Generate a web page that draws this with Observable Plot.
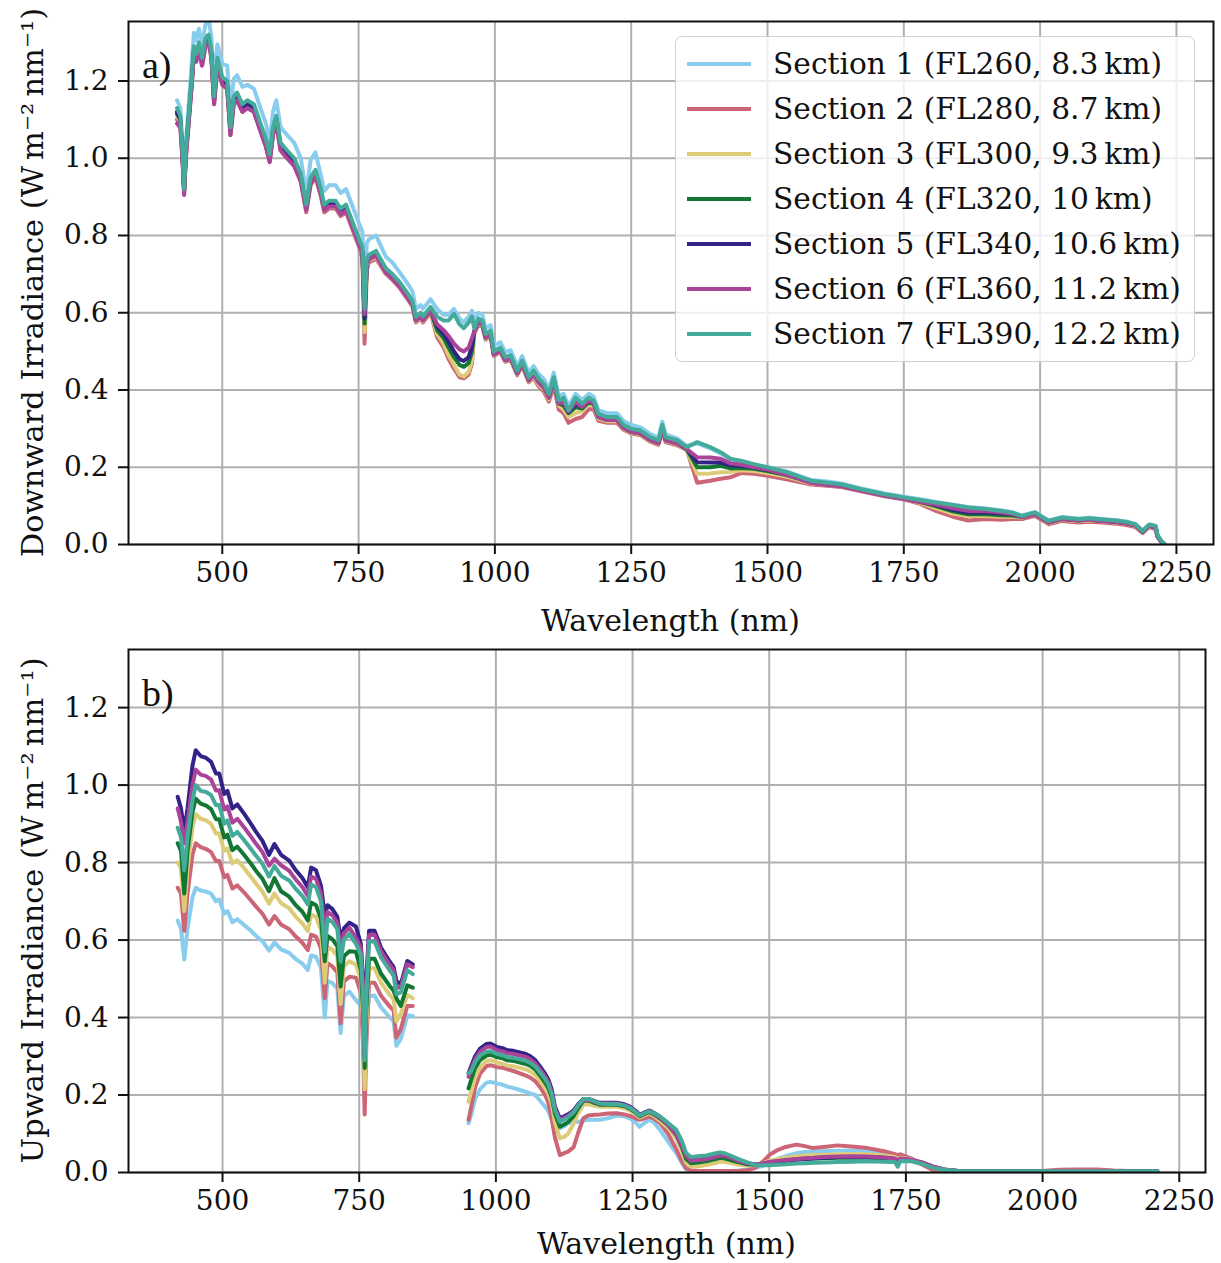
<!DOCTYPE html>
<html><head><meta charset="utf-8">
<script src="https://cdn.jsdelivr.net/npm/d3@7"></script>
<script src="https://cdn.jsdelivr.net/npm/@observablehq/plot@0.6"></script>
<style>
html,body{margin:0;padding:0;background:#fff;}
#wrap{position:relative;width:1221px;height:1263px;overflow:hidden;font-family:"DejaVu Serif",serif;background:#fff;}
.panel{position:absolute;left:0;}
.legend{position:absolute;left:675px;top:36px;width:520px;height:326px;box-sizing:border-box;border:1.5px solid #d0d0d0;border-radius:7px;background:rgba(255,255,255,0.8);}
.legend .row{position:absolute;left:0;height:40px;width:100%;}
.legend .swatch{position:absolute;left:11px;top:18px;width:64px;height:4px;}
.legend .lab{position:absolute;left:97px;top:0;line-height:40px;font-size:29.7px;color:#111;white-space:nowrap;}
</style></head><body><div id="wrap"></div>
<script>
// ---------- data ----------
const sectionNames = [
  "Section 1 (FL260, 8.3\u2009km)",
  "Section 2 (FL280, 8.7\u2009km)",
  "Section 3 (FL300, 9.3\u2009km)",
  "Section 4 (FL320, 10\u2009km)",
  "Section 5 (FL340, 10.6\u2009km)",
  "Section 6 (FL360, 11.2\u2009km)",
  "Section 7 (FL390, 12.2\u2009km)"
];
const sectionColors = ["#88CCEE", "#CC6677", "#DDCC77", "#117733", "#332288", "#AA4499", "#44AA99"];
const xTicks = [500, 750, 1000, 1250, 1500, 1750, 2000, 2250];
const yTicks = [0, 0.2, 0.4, 0.6, 0.8, 1.0, 1.2];

// Panel a: downward irradiance
const wavelengthsA = [
  417, 423, 427, 430, 433, 437, 444, 448, 452, 457,
  463, 469, 475, 480, 485, 491, 500, 509, 515, 521,
  527, 537, 546, 558, 570, 580, 587, 593, 599, 607,
  619, 632, 644, 654, 662, 671, 681, 687, 696, 708,
  717, 727, 739, 751, 757, 761, 765, 769, 782, 800,
  812, 825, 840, 849, 855, 864, 868, 882, 894, 906,
  915, 925, 935, 943, 952, 958, 962, 970, 977, 983,
  992, 998, 1010, 1019, 1029, 1041, 1050, 1062, 1071, 1080,
  1090, 1099, 1108, 1117, 1126, 1135, 1148, 1160, 1172, 1181,
  1190, 1206, 1224, 1236, 1249, 1267, 1285, 1300, 1307, 1313,
  1334, 1352, 1371, 1395, 1414, 1432, 1451, 1475, 1500, 1537,
  1580, 1610, 1635, 1672, 1715, 1750, 1780, 1807, 1840, 1868,
  1900, 1930, 1950, 1967, 1991, 2005, 2016, 2040, 2070, 2090,
  2114, 2140, 2160, 2175, 2188, 2200, 2207, 2212, 2215, 2222,
  2228
];
const downS1 = [
  1.15, 1.13, 1.04, 0.93, 1.04, 1.11, 1.245, 1.325, 1.305, 1.335,
  1.295, 1.345, 1.36, 1.315, 1.19, 1.295, 1.245, 1.24, 1.12, 1.205,
  1.215, 1.185, 1.19, 1.18, 1.13, 1.09, 1.04, 1.12, 1.15, 1.08,
  1.06, 1.04, 1.0, 0.91, 0.995, 1.015, 0.955, 0.915, 0.93, 0.93,
  0.91, 0.92, 0.875, 0.83, 0.81, 0.64, 0.78, 0.79, 0.80, 0.745,
  0.73, 0.705, 0.675, 0.655, 0.61, 0.62, 0.61, 0.635, 0.61, 0.595,
  0.595, 0.61, 0.585, 0.575, 0.59, 0.605, 0.575, 0.6, 0.595, 0.56,
  0.568, 0.514, 0.524, 0.498, 0.503, 0.462, 0.488, 0.445, 0.462, 0.442,
  0.428, 0.402, 0.445, 0.385, 0.39, 0.358, 0.39, 0.374, 0.39, 0.383,
  0.348, 0.34, 0.34, 0.32, 0.31, 0.303, 0.286, 0.277, 0.318, 0.285,
  0.275, 0.255, 0.262, 0.249, 0.236, 0.22, 0.215, 0.206, 0.2, 0.188,
  0.167, 0.163, 0.158, 0.145, 0.132, 0.124, 0.117, 0.111, 0.103, 0.097,
  0.093, 0.088, 0.083, 0.075, 0.084, 0.071, 0.062, 0.071, 0.067, 0.069,
  0.066, 0.063, 0.059, 0.053, 0.036, 0.05, 0.045, 0.042, 0.024, 0.008,
  0.0
];
const downS2 = [
  1.10, 1.09, 1.0, 0.91, 1.0, 1.07, 1.19, 1.27, 1.25, 1.28,
  1.24, 1.29, 1.30, 1.26, 1.14, 1.24, 1.19, 1.18, 1.06, 1.14,
  1.15, 1.12, 1.13, 1.12, 1.07, 1.03, 0.99, 1.06, 1.09, 1.02,
  1.0, 0.98, 0.94, 0.86, 0.93, 0.95, 0.90, 0.86, 0.87, 0.87,
  0.85, 0.86, 0.815, 0.77, 0.74, 0.52, 0.71, 0.73, 0.74, 0.70,
  0.685, 0.665, 0.635, 0.615, 0.575, 0.585, 0.575, 0.60, 0.537, 0.51,
  0.48, 0.455, 0.433, 0.43, 0.44, 0.47, 0.545, 0.57, 0.565, 0.53,
  0.54, 0.488, 0.498, 0.473, 0.478, 0.438, 0.463, 0.42, 0.432, 0.41,
  0.395, 0.37, 0.41, 0.35, 0.34, 0.315, 0.325, 0.33, 0.35, 0.35,
  0.32, 0.315, 0.315, 0.297, 0.288, 0.283, 0.266, 0.258, 0.295, 0.265,
  0.257, 0.245, 0.16, 0.165, 0.17, 0.174, 0.185, 0.183, 0.178, 0.168,
  0.155, 0.152, 0.149, 0.138, 0.125, 0.117, 0.105, 0.088, 0.072, 0.062,
  0.066, 0.064, 0.066, 0.066, 0.074, 0.062, 0.052, 0.061, 0.057, 0.059,
  0.057, 0.054, 0.05, 0.045, 0.03, 0.045, 0.042, 0.04, 0.02, 0.006,
  0.0
];
const downS3 = [
  1.11, 1.095, 1.005, 0.915, 1.005, 1.075, 1.195, 1.275, 1.255, 1.285,
  1.245, 1.295, 1.305, 1.265, 1.145, 1.245, 1.195, 1.185, 1.065, 1.145,
  1.155, 1.125, 1.135, 1.125, 1.075, 1.035, 0.995, 1.065, 1.095, 1.025,
  1.005, 0.985, 0.945, 0.865, 0.935, 0.955, 0.905, 0.865, 0.875, 0.875,
  0.855, 0.865, 0.82, 0.775, 0.75, 0.55, 0.72, 0.735, 0.745, 0.70,
  0.688, 0.668, 0.638, 0.618, 0.578, 0.588, 0.578, 0.603, 0.545, 0.52,
  0.49, 0.465, 0.44, 0.435, 0.447, 0.478, 0.548, 0.572, 0.567, 0.532,
  0.542, 0.49, 0.5, 0.475, 0.48, 0.44, 0.465, 0.422, 0.436, 0.415,
  0.402, 0.376, 0.418, 0.36, 0.35, 0.33, 0.34, 0.345, 0.362, 0.36,
  0.326, 0.319, 0.319, 0.3, 0.29, 0.285, 0.268, 0.26, 0.298, 0.268,
  0.26, 0.243, 0.183, 0.184, 0.187, 0.188, 0.192, 0.19, 0.185, 0.175,
  0.158, 0.154, 0.151, 0.139, 0.126, 0.118, 0.108, 0.095, 0.08, 0.074,
  0.074, 0.072, 0.072, 0.07, 0.078, 0.065, 0.055, 0.064, 0.06, 0.062,
  0.06, 0.057, 0.053, 0.048, 0.032, 0.048, 0.045, 0.043, 0.022, 0.007,
  0.0
];
const downS4 = [
  1.115, 1.1, 1.01, 0.915, 1.01, 1.08, 1.2, 1.28, 1.26, 1.29,
  1.25, 1.30, 1.31, 1.27, 1.15, 1.25, 1.20, 1.19, 1.07, 1.15,
  1.16, 1.13, 1.14, 1.13, 1.08, 1.04, 1.0, 1.07, 1.10, 1.03,
  1.01, 0.99, 0.95, 0.87, 0.94, 0.96, 0.91, 0.87, 0.88, 0.88,
  0.86, 0.87, 0.825, 0.78, 0.755, 0.572, 0.725, 0.74, 0.75, 0.705,
  0.69, 0.671, 0.641, 0.621, 0.581, 0.591, 0.581, 0.606, 0.555, 0.535,
  0.51, 0.485, 0.465, 0.46, 0.47, 0.5, 0.55, 0.575, 0.57, 0.535,
  0.545, 0.492, 0.502, 0.477, 0.482, 0.443, 0.468, 0.425, 0.44, 0.42,
  0.406, 0.38, 0.423, 0.365, 0.36, 0.34, 0.355, 0.352, 0.368, 0.364,
  0.33, 0.322, 0.322, 0.302, 0.292, 0.287, 0.27, 0.262, 0.3, 0.27,
  0.262, 0.246, 0.2, 0.2, 0.204, 0.197, 0.198, 0.196, 0.19, 0.179,
  0.16, 0.155, 0.152, 0.14, 0.127, 0.119, 0.11, 0.1, 0.086, 0.078,
  0.078, 0.076, 0.075, 0.071, 0.079, 0.066, 0.057, 0.066, 0.062, 0.064,
  0.061, 0.058, 0.054, 0.049, 0.033, 0.049, 0.046, 0.044, 0.023, 0.008,
  0.0
];
const downS5 = [
  1.12, 1.1, 1.012, 0.918, 1.012, 1.082, 1.2, 1.28, 1.262, 1.29,
  1.252, 1.3, 1.31, 1.272, 1.152, 1.252, 1.202, 1.192, 1.072, 1.152,
  1.162, 1.132, 1.142, 1.132, 1.082, 1.042, 1.002, 1.072, 1.102, 1.032,
  1.012, 0.992, 0.952, 0.872, 0.942, 0.962, 0.912, 0.872, 0.882, 0.882,
  0.862, 0.872, 0.827, 0.782, 0.758, 0.585, 0.728, 0.742, 0.752, 0.707,
  0.692, 0.673, 0.643, 0.623, 0.583, 0.593, 0.583, 0.608, 0.565, 0.545,
  0.525, 0.5, 0.48, 0.475, 0.485, 0.515, 0.552, 0.577, 0.572, 0.537,
  0.547, 0.494, 0.504, 0.479, 0.484, 0.445, 0.47, 0.427, 0.442, 0.423,
  0.409, 0.383, 0.426, 0.367, 0.365, 0.343, 0.365, 0.356, 0.372, 0.367,
  0.332, 0.324, 0.324, 0.304, 0.294, 0.289, 0.272, 0.264, 0.303, 0.272,
  0.264, 0.248, 0.213, 0.212, 0.212, 0.205, 0.203, 0.199, 0.193, 0.181,
  0.161, 0.156, 0.153, 0.141, 0.128, 0.12, 0.111, 0.103, 0.09, 0.083,
  0.083, 0.08, 0.078, 0.072, 0.08, 0.067, 0.058, 0.067, 0.063, 0.065,
  0.062, 0.059, 0.055, 0.05, 0.033, 0.05, 0.047, 0.045, 0.024, 0.008,
  0.0
];
const downS6 = [
  1.09, 1.08, 0.995, 0.905, 0.995, 1.065, 1.19, 1.27, 1.25, 1.28,
  1.24, 1.29, 1.30, 1.26, 1.14, 1.24, 1.19, 1.18, 1.06, 1.14,
  1.15, 1.12, 1.13, 1.12, 1.07, 1.03, 0.99, 1.06, 1.09, 1.02,
  1.0, 0.98, 0.94, 0.865, 0.935, 0.955, 0.905, 0.865, 0.875, 0.875,
  0.855, 0.865, 0.82, 0.775, 0.755, 0.596, 0.725, 0.738, 0.748, 0.703,
  0.688, 0.668, 0.638, 0.62, 0.58, 0.59, 0.58, 0.605, 0.57, 0.555,
  0.54, 0.52, 0.505, 0.5, 0.51, 0.535, 0.55, 0.575, 0.57, 0.535,
  0.545, 0.492, 0.502, 0.477, 0.482, 0.443, 0.468, 0.425, 0.44, 0.42,
  0.406, 0.38, 0.423, 0.365, 0.368, 0.345, 0.368, 0.356, 0.372, 0.366,
  0.33, 0.322, 0.322, 0.302, 0.292, 0.287, 0.27, 0.262, 0.3, 0.27,
  0.262, 0.247, 0.226, 0.225, 0.222, 0.21, 0.207, 0.2, 0.194, 0.18,
  0.159, 0.154, 0.151, 0.139, 0.126, 0.118, 0.11, 0.104, 0.094, 0.087,
  0.087, 0.083, 0.079, 0.071, 0.079, 0.066, 0.057, 0.066, 0.062, 0.064,
  0.061, 0.058, 0.054, 0.049, 0.033, 0.049, 0.046, 0.044, 0.023, 0.008,
  0.0
];
const downS7 = [
  1.13, 1.11, 1.02, 0.92, 1.02, 1.09, 1.21, 1.29, 1.27, 1.30,
  1.26, 1.31, 1.32, 1.28, 1.16, 1.26, 1.21, 1.20, 1.08, 1.16,
  1.17, 1.14, 1.15, 1.14, 1.09, 1.05, 1.01, 1.08, 1.11, 1.04,
  1.02, 1.00, 0.96, 0.88, 0.95, 0.97, 0.92, 0.88, 0.89, 0.89,
  0.87, 0.88, 0.835, 0.79, 0.77, 0.61, 0.74, 0.75, 0.76, 0.715,
  0.70, 0.68, 0.65, 0.63, 0.59, 0.60, 0.59, 0.615, 0.59, 0.58,
  0.58, 0.597, 0.57, 0.56, 0.575, 0.59, 0.56, 0.585, 0.58, 0.545,
  0.554, 0.50, 0.51, 0.485, 0.49, 0.45, 0.476, 0.433, 0.45, 0.43,
  0.416, 0.39, 0.433, 0.373, 0.38, 0.347, 0.38, 0.364, 0.38, 0.373,
  0.338, 0.33, 0.33, 0.31, 0.30, 0.295, 0.278, 0.27, 0.31, 0.278,
  0.27, 0.252, 0.265, 0.252, 0.239, 0.222, 0.217, 0.208, 0.20, 0.187,
  0.165, 0.16, 0.156, 0.143, 0.13, 0.122, 0.115, 0.109, 0.102, 0.096,
  0.092, 0.087, 0.082, 0.074, 0.083, 0.07, 0.061, 0.07, 0.066, 0.068,
  0.065, 0.062, 0.058, 0.052, 0.035, 0.052, 0.05, 0.048, 0.026, 0.01,
  0.0
];

// Panel b: upward irradiance (null = gap in the measured spectrum)
const wavelengthsB = [
  418, 424, 430, 436, 445, 451, 460, 470, 479, 488,
  494, 503, 509, 518, 527, 540, 552, 561, 573, 585,
  595, 607, 622, 634, 646, 656, 662, 671, 680, 687,
  692, 701, 710, 716, 722, 732, 744, 753, 757, 760,
  763, 768, 778, 790, 805, 813, 818, 826, 838, 848,
  900,
  950, 955, 962, 971, 983, 990, 1002, 1014, 1020, 1032,
  1044, 1055, 1063, 1072, 1081, 1090, 1096, 1102, 1108, 1117,
  1125, 1132, 1142, 1150, 1160, 1169, 1180, 1190, 1205, 1221,
  1235, 1245, 1255, 1263, 1272, 1281, 1290, 1300, 1315, 1330,
  1340, 1348, 1357, 1370, 1385, 1400, 1410, 1420, 1432, 1445,
  1460, 1475, 1490, 1500, 1515, 1530, 1550, 1565, 1580, 1600,
  1625, 1650, 1680, 1710, 1730, 1735, 1740, 1760, 1780, 1800,
  1820, 1845, 1900, 1950, 2000, 2030, 2060, 2100, 2130, 2160,
  2210
];
const upS1 = [
  0.65, 0.63, 0.55, 0.63, 0.71, 0.735, 0.728, 0.725, 0.72, 0.70,
  0.705, 0.668, 0.675, 0.646, 0.654, 0.638, 0.624, 0.611, 0.597, 0.573,
  0.594, 0.576, 0.567, 0.551, 0.539, 0.523, 0.56, 0.557, 0.529, 0.40,
  0.495, 0.489, 0.475, 0.36, 0.455, 0.467, 0.445, 0.43, 0.38, 0.26,
  0.38, 0.455, 0.457, 0.426, 0.402, 0.39, 0.327, 0.345, 0.405, 0.404,
  null,
  0.127, 0.15, 0.19, 0.215, 0.232, 0.234, 0.23, 0.226, 0.222, 0.218,
  0.213, 0.208, 0.204, 0.2, 0.185, 0.17, 0.158, 0.136, 0.122, 0.114,
  0.12, 0.127, 0.13, 0.131, 0.134, 0.136, 0.136, 0.136, 0.14, 0.147,
  0.145, 0.14, 0.13, 0.118, 0.128, 0.136, 0.128, 0.11, 0.08, 0.05,
  0.025, 0.007, 0.005, 0.004, 0.004, 0.004, 0.004, 0.004, 0.004, 0.005,
  0.008, 0.012, 0.018, 0.025, 0.035, 0.042, 0.05, 0.053, 0.054, 0.055,
  0.056, 0.056, 0.055, 0.052, 0.046, 0.042, 0.045, 0.036, 0.022, 0.008,
  0.004, 0.003, 0.003, 0.003, 0.003, 0.004, 0.005, 0.005, 0.004, 0.003,
  0.003
];
const upS2 = [
  0.735, 0.72, 0.624, 0.72, 0.82, 0.85, 0.84, 0.835, 0.827, 0.804,
  0.804, 0.762, 0.768, 0.733, 0.741, 0.722, 0.702, 0.687, 0.668, 0.64,
  0.662, 0.64, 0.628, 0.609, 0.593, 0.574, 0.614, 0.609, 0.578, 0.45,
  0.54, 0.532, 0.516, 0.385, 0.493, 0.505, 0.503, 0.464, 0.33, 0.15,
  0.33, 0.49, 0.49, 0.456, 0.43, 0.418, 0.348, 0.37, 0.43, 0.43,
  null,
  0.136, 0.17, 0.22, 0.255, 0.275, 0.277, 0.272, 0.27, 0.267, 0.262,
  0.256, 0.25, 0.245, 0.236, 0.22, 0.2, 0.18, 0.14, 0.09, 0.045,
  0.05, 0.054, 0.065, 0.1, 0.14, 0.147, 0.149, 0.15, 0.152, 0.153,
  0.15, 0.146, 0.14, 0.136, 0.14, 0.144, 0.138, 0.128, 0.1, 0.06,
  0.03, 0.011, 0.005, 0.004, 0.004, 0.004, 0.004, 0.004, 0.004, 0.004,
  0.006, 0.012, 0.03, 0.045, 0.058, 0.066, 0.072, 0.068, 0.063, 0.066,
  0.07, 0.067, 0.063, 0.055, 0.047, 0.045, 0.047, 0.036, 0.02, 0.006,
  0.003, 0.003, 0.003, 0.003, 0.004, 0.007, 0.008, 0.008, 0.005, 0.004,
  0.003
];
const upS3 = [
  0.80, 0.785, 0.675, 0.785, 0.89, 0.925, 0.913, 0.909, 0.90, 0.875,
  0.875, 0.83, 0.836, 0.798, 0.806, 0.785, 0.763, 0.746, 0.725, 0.694,
  0.72, 0.695, 0.682, 0.66, 0.643, 0.623, 0.666, 0.66, 0.626, 0.49,
  0.583, 0.575, 0.558, 0.435, 0.532, 0.545, 0.537, 0.498, 0.38, 0.215,
  0.38, 0.527, 0.527, 0.49, 0.46, 0.447, 0.39, 0.41, 0.458, 0.45,
  null,
  0.183, 0.21, 0.245, 0.272, 0.288, 0.29, 0.284, 0.28, 0.276, 0.274,
  0.27, 0.266, 0.261, 0.252, 0.236, 0.218, 0.203, 0.178, 0.13, 0.088,
  0.092, 0.1, 0.125, 0.152, 0.175, 0.176, 0.172, 0.17, 0.17, 0.17,
  0.166, 0.16, 0.151, 0.142, 0.148, 0.152, 0.145, 0.134, 0.115, 0.088,
  0.055, 0.025, 0.015, 0.016, 0.019, 0.024, 0.028, 0.027, 0.024, 0.02,
  0.018, 0.019, 0.025, 0.03, 0.034, 0.038, 0.042, 0.044, 0.045, 0.046,
  0.047, 0.048, 0.047, 0.044, 0.04, 0.034, 0.038, 0.034, 0.025, 0.013,
  0.006, 0.003, 0.003, 0.003, 0.003, 0.004, 0.004, 0.004, 0.003, 0.003,
  0.003
];
const upS4 = [
  0.85, 0.83, 0.72, 0.83, 0.93, 0.965, 0.952, 0.947, 0.938, 0.912,
  0.912, 0.865, 0.872, 0.832, 0.841, 0.819, 0.797, 0.779, 0.758, 0.726,
  0.76, 0.726, 0.712, 0.69, 0.673, 0.651, 0.697, 0.69, 0.655, 0.545,
  0.611, 0.602, 0.584, 0.48, 0.558, 0.571, 0.57, 0.522, 0.42, 0.27,
  0.42, 0.552, 0.552, 0.513, 0.483, 0.469, 0.45, 0.43, 0.483, 0.477,
  null,
  0.217, 0.24, 0.27, 0.29, 0.302, 0.304, 0.298, 0.294, 0.29, 0.288,
  0.284, 0.28, 0.275, 0.266, 0.25, 0.232, 0.218, 0.195, 0.152, 0.118,
  0.124, 0.13, 0.145, 0.165, 0.185, 0.186, 0.18, 0.175, 0.175, 0.175,
  0.171, 0.165, 0.155, 0.145, 0.151, 0.156, 0.149, 0.14, 0.122, 0.097,
  0.066, 0.035, 0.024, 0.026, 0.029, 0.034, 0.038, 0.036, 0.031, 0.026,
  0.021, 0.02, 0.023, 0.026, 0.029, 0.031, 0.034, 0.035, 0.036, 0.037,
  0.038, 0.039, 0.038, 0.036, 0.034, 0.03, 0.034, 0.031, 0.024, 0.014,
  0.007, 0.004, 0.003, 0.003, 0.003, 0.004, 0.004, 0.004, 0.003, 0.003,
  0.003
];
const upS5 = [
  0.97, 0.94, 0.88, 0.94, 1.05, 1.09, 1.075, 1.07, 1.06, 1.03,
  1.03, 0.977, 0.985, 0.94, 0.95, 0.925, 0.90, 0.88, 0.856, 0.82,
  0.848, 0.82, 0.805, 0.78, 0.76, 0.736, 0.787, 0.78, 0.74, 0.665,
  0.69, 0.68, 0.66, 0.60, 0.63, 0.645, 0.635, 0.59, 0.50, 0.31,
  0.50, 0.624, 0.624, 0.58, 0.546, 0.53, 0.494, 0.486, 0.546, 0.537,
  null,
  0.256, 0.275, 0.30, 0.32, 0.332, 0.333, 0.324, 0.32, 0.316, 0.314,
  0.31, 0.306, 0.30, 0.29, 0.273, 0.255, 0.24, 0.215, 0.17, 0.14,
  0.145, 0.15, 0.16, 0.175, 0.19, 0.19, 0.185, 0.18, 0.18, 0.18,
  0.176, 0.17, 0.16, 0.149, 0.155, 0.16, 0.153, 0.144, 0.125, 0.10,
  0.072, 0.045, 0.032, 0.034, 0.036, 0.042, 0.046, 0.045, 0.038, 0.03,
  0.024, 0.02, 0.022, 0.025, 0.028, 0.03, 0.033, 0.035, 0.036, 0.038,
  0.04, 0.04, 0.04, 0.038, 0.035, 0.03, 0.035, 0.032, 0.025, 0.015,
  0.008, 0.004, 0.003, 0.003, 0.003, 0.004, 0.004, 0.004, 0.003, 0.003,
  0.003
];
const upS6 = [
  0.94, 0.905, 0.85, 0.905, 1.0, 1.04, 1.027, 1.023, 1.014, 0.986,
  0.987, 0.937, 0.945, 0.903, 0.913, 0.89, 0.867, 0.849, 0.827, 0.792,
  0.81, 0.793, 0.779, 0.756, 0.737, 0.714, 0.764, 0.758, 0.72, 0.62,
  0.673, 0.664, 0.645, 0.575, 0.617, 0.632, 0.606, 0.58, 0.47, 0.30,
  0.47, 0.613, 0.614, 0.571, 0.538, 0.522, 0.477, 0.478, 0.538, 0.53,
  null,
  0.247, 0.268, 0.292, 0.312, 0.324, 0.325, 0.316, 0.312, 0.308, 0.306,
  0.302, 0.298, 0.292, 0.282, 0.266, 0.248, 0.233, 0.208, 0.165, 0.136,
  0.141, 0.146, 0.157, 0.172, 0.187, 0.188, 0.183, 0.178, 0.178, 0.178,
  0.174, 0.168, 0.158, 0.147, 0.153, 0.158, 0.151, 0.142, 0.123, 0.098,
  0.07, 0.043, 0.03, 0.032, 0.034, 0.04, 0.044, 0.043, 0.037, 0.029,
  0.024, 0.021, 0.024, 0.027, 0.03, 0.032, 0.035, 0.037, 0.038, 0.04,
  0.041, 0.042, 0.041, 0.039, 0.036, 0.031, 0.036, 0.033, 0.026, 0.015,
  0.008, 0.004, 0.003, 0.003, 0.003, 0.004, 0.004, 0.004, 0.003, 0.003,
  0.003
];
const upS7 = [
  0.89, 0.865, 0.78, 0.865, 0.96, 1.0, 0.985, 0.982, 0.974, 0.948,
  0.949, 0.9, 0.909, 0.869, 0.879, 0.857, 0.835, 0.818, 0.797, 0.764,
  0.791, 0.766, 0.754, 0.732, 0.714, 0.692, 0.743, 0.737, 0.70, 0.57,
  0.655, 0.647, 0.628, 0.545, 0.601, 0.616, 0.59, 0.563, 0.45, 0.29,
  0.45, 0.596, 0.597, 0.555, 0.523, 0.508, 0.46, 0.465, 0.522, 0.512,
  null,
  0.256, 0.262, 0.285, 0.302, 0.312, 0.313, 0.306, 0.302, 0.298, 0.296,
  0.292, 0.288, 0.283, 0.274, 0.258, 0.241, 0.227, 0.203, 0.161, 0.131,
  0.137, 0.143, 0.155, 0.172, 0.19, 0.19, 0.184, 0.178, 0.177, 0.177,
  0.173, 0.167, 0.157, 0.147, 0.153, 0.158, 0.152, 0.145, 0.128, 0.11,
  0.082, 0.05, 0.04, 0.042, 0.044, 0.049, 0.052, 0.049, 0.042, 0.034,
  0.026, 0.019, 0.019, 0.019, 0.02, 0.021, 0.023, 0.024, 0.025, 0.026,
  0.027, 0.028, 0.029, 0.028, 0.027, 0.015, 0.03, 0.029, 0.022, 0.012,
  0.007, 0.004, 0.003, 0.003, 0.003, 0.003, 0.003, 0.003, 0.003, 0.003,
  0.003
];

// ---------- build tables ----------
function toRows(wls, seriesList) {
  const rows = [];
  seriesList.forEach((s, i) => {
    wls.forEach((w, j) => rows.push({wl: w, v: s[j], section: sectionNames[i]}));
  });
  return rows;
}
const rowsA = toRows(wavelengthsA, [downS1, downS2, downS3, downS4, downS5, downS6, downS7]);
const rowsB = toRows(wavelengthsB, [upS1, upS2, upS3, upS4, upS5, upS6, upS7]);

const FONT = '"DejaVu Serif", serif';
const wrap = document.getElementById("wrap");

function makePanel({rows, top, height, mt, mb, mr, xDomain, yDomain, yLabel, tag, titleOffset}) {
  const width = 1221, ml = 128;
  const svg = Plot.plot({
    width, height,
    marginTop: mt, marginBottom: mb, marginLeft: ml, marginRight: mr,
    style: {fontFamily: FONT, fontSize: "28px", color: "#111", background: "transparent", overflow: "visible"},
    x: {domain: xDomain},
    y: {domain: yDomain},
    color: {domain: sectionNames, range: sectionColors},
    marks: [
      Plot.gridX(xTicks, {stroke: "#b0b0b0", strokeOpacity: 1, strokeWidth: 2}),
      Plot.gridY(yTicks, {stroke: "#b0b0b0", strokeOpacity: 1, strokeWidth: 2}),
      Plot.line(rows, {x: "wl", y: "v", z: "section", stroke: "section", strokeWidth: 4, clip: true}),
      Plot.frame({stroke: "#111", strokeWidth: 2}),
      Plot.axisX(xTicks, {tickSize: 10, tickPadding: 8, tickFormat: "d", label: null, strokeWidth: 2}),
      Plot.axisY(yTicks, {tickSize: 10, tickPadding: 10, tickFormat: ".1f", label: null, strokeWidth: 2})
    ]
  });
  svg.classList.add("panel");
  svg.style.top = top + "px";
  const g = d3.select(svg).append("g").attr("fill", "#111").attr("font-family", FONT);
  const plotBottom = height - mb;
  g.append("text")
    .attr("transform", `translate(32,${(mt + plotBottom) / 2}) rotate(-90)`)
    .attr("text-anchor", "middle").attr("dominant-baseline", "central")
    .attr("font-size", 30.5).text(yLabel);
  g.append("text")
    .attr("x", (ml + width - mr) / 2).attr("y", plotBottom + titleOffset)
    .attr("text-anchor", "middle").attr("dominant-baseline", "central")
    .attr("font-size", 30).text("Wavelength (nm)");
  g.append("text")
    .attr("x", ml + 14).attr("y", mt + 57)
    .attr("text-anchor", "start")
    .attr("font-family", '"Liberation Serif", serif')
    .attr("font-size", 38).text(tag);
  wrap.appendChild(svg);
}

makePanel({rows: rowsA, top: 0, height: 640, mt: 21, mb: 96, mr: 8, xDomain: [328, 2318], yDomain: [0, 1.354],
  yLabel: "Downward Irradiance (W\u2009m\u207B\u00B2\u2009nm\u207B\u00B9)", tag: "a)", titleOffset: 76});
makePanel({rows: rowsB, top: 640, height: 623, mt: 9, mb: 91, mr: 16, xDomain: [328, 2298], yDomain: [0, 1.35],
  yLabel: "Upward Irradiance (W\u2009m\u207B\u00B2\u2009nm\u207B\u00B9)", tag: "b)", titleOffset: 71});

// legend (panel a)
const legend = document.createElement("div");
legend.className = "legend";
sectionNames.forEach((name, i) => {
  const row = document.createElement("div");
  row.className = "row";
  row.style.top = (7 + 45 * i) + "px";
  const sw = document.createElement("div");
  sw.className = "swatch";
  sw.style.background = sectionColors[i];
  const lab = document.createElement("div");
  lab.className = "lab";
  lab.textContent = name;
  row.appendChild(sw); row.appendChild(lab);
  legend.appendChild(row);
});
wrap.appendChild(legend);
</script></body></html>
